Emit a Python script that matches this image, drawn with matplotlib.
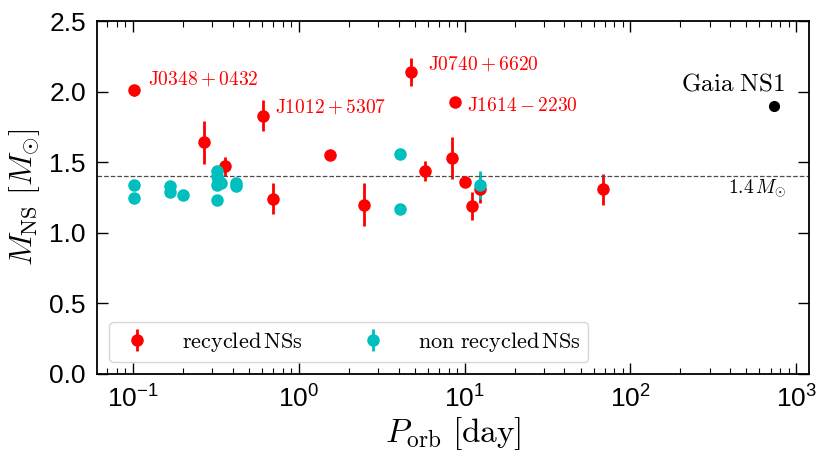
import numpy as np
import matplotlib.pyplot as plt

plt.rcParams['font.family'] = 'Liberation Sans'
plt.rcParams['mathtext.fontset'] = 'cm'

# recycled NSs: orbital period [day], mass [Msun], error
rec_p = [0.102, 0.267, 0.359, 0.604, 0.703, 1.54, 2.48, 4.77, 5.78, 8.37, 8.69, 10.07, 11.0, 12.4, 68.2]
rec_m = [2.01, 1.64, 1.47, 1.83, 1.24, 1.55, 1.20, 2.14, 1.44, 1.53, 1.93, 1.36, 1.19, 1.31, 1.31]
rec_e = [0.04, 0.15, 0.07, 0.11, 0.11, 0.02, 0.15, 0.10, 0.07, 0.15, 0.02, 0.02, 0.10, 0.10, 0.11]

# non recycled NSs
non_p = [0.102, 0.102, 0.166, 0.166, 0.199, 0.320, 0.320, 0.320, 0.327, 0.320, 0.337, 0.42, 0.42, 4.07, 4.07, 12.4]
non_m = [1.34, 1.25, 1.33, 1.29, 1.27, 1.23, 1.44, 1.40, 1.37, 1.34, 1.35, 1.35, 1.33, 1.56, 1.17, 1.34]
non_e = [0.01, 0.01, 0.01, 0.01, 0.01, 0.01, 0.02, 0.02, 0.02, 0.02, 0.02, 0.01, 0.01, 0.01, 0.01, 0.10]

gaia_p = 731
gaia_m = 1.90

labels = [r'$\rm J0348+0432$', r'$\rm J1012+5307$', r'$\rm J0740+6620$', r'$\rm J1614-2230$']
label_x = [0.123, 0.72, 6.0, 10.4]
label_y = [2.09, 1.89, 2.195, 1.90]

fig = plt.figure(figsize=(8.3, 4.69), dpi=100)
ax = fig.add_axes([0.117, 0.2026, 0.858, 0.7524])

ax.errorbar(rec_p, rec_m, yerr=rec_e, fmt='o', color='r', ms=8, elinewidth=2,
            capsize=0, label=r'$\rm recycled\,NSs$')
ax.errorbar(non_p, non_m, yerr=non_e, fmt='o', color='c', ms=8, elinewidth=2,
            capsize=0, label=r'$\rm non\ recycled\,NSs$')
ax.plot(gaia_p, gaia_m, 'o', color='k', ms=7)

ax.axhline(1.4, color='0.3', ls='--', lw=0.9)

for t, x, y in zip(labels, label_x, label_y):
    ax.text(x, y, t, color='r', fontsize=14, ha='left', va='center')
ax.text(860, 2.06, r'$\rm Gaia\ NS1$', fontsize=18, ha='right', va='center')
ax.text(870, 1.315, r'$1.4\,M_{\odot}$', fontsize=14, ha='right', va='center')

ax.set_xscale('log')
ax.set_xlim(0.0607, 1198)
ax.set_ylim(0, 2.5)
ax.set_xlabel(r'$P_{\rm orb}\ [\rm day]$', fontsize=24, labelpad=2)
ax.set_ylabel(r'$M_{\rm NS}\ [M_{\odot}]$', fontsize=23, labelpad=5)
ax.tick_params(which='both', direction='in', top=True, right=True, labelsize=19, pad=8)
ax.tick_params(which='major', length=8, width=1)
ax.tick_params(which='minor', length=4, width=0.8)
ax.set_yticks(np.arange(0, 2.51, 0.5))
for s in ax.spines.values():
    s.set_linewidth(1.3)

ax.legend(loc='lower left', ncol=2, fontsize=16, columnspacing=2.3,
          handlelength=1.8, handletextpad=1.1, borderpad=0.35,
          borderaxespad=0.55)

fig.savefig('out.png')
